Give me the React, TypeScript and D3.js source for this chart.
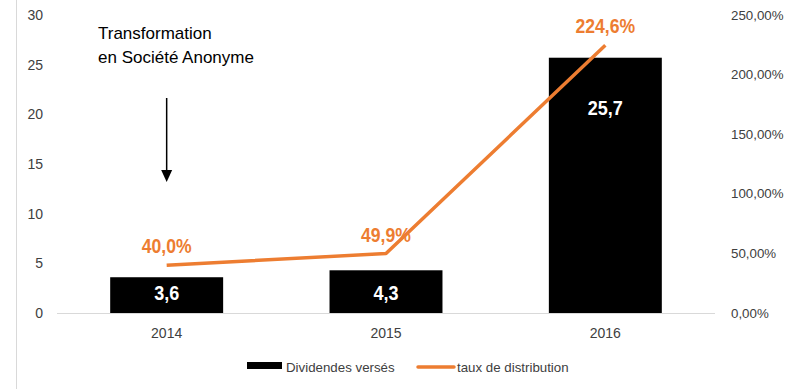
import React from "react";
import * as d3 from "d3";

const categories = ["2014", "2015", "2016"];
const dividendes = [3.6, 4.3, 25.7];
const taux = [0.4, 0.499, 2.246];
const leftTicks = [0, 5, 10, 15, 20, 25, 30];
const rightTicks = [0, 0.5, 1, 1.5, 2, 2.5];
const annotationLines = ["Transformation", "en Société Anonyme"];

const W = 793;
const H = 389;
const M = { left: 57, right: 78, top: 15, bottom: 76 };
const ORANGE = "#ED7D31";
const TEXT = "#404040";
const FONT = "'Liberation Sans', Arial, sans-serif";

const fmtComma = (v: number, d: number) => v.toFixed(d).replace(".", ",");

export default function App() {
  const x = d3
    .scaleBand<string>()
    .domain(categories)
    .range([M.left, W - M.right])
    .paddingInner(0.485)
    .paddingOuter(0.2425);
  const yL = d3.scaleLinear().domain([0, 30]).range([H - M.bottom, M.top]);
  const yR = d3.scaleLinear().domain([0, 2.5]).range([H - M.bottom, M.top]);
  const y0 = yL(0);
  const cx = (c: string) => (x(c) as number) + x.bandwidth() / 2;

  const line = d3
    .line<number>()
    .x((_, i) => cx(categories[i]))
    .y((d) => yR(d));

  const arrowX = cx(categories[0]);

  return (
    <svg width={W} height={H} style={{ position: "absolute", left: 0, top: 0, background: "#fff" }}>
      <rect x={0} y={0} width={W} height={H} fill="#fff" />
      {/* left frame line */}
      <line x1={16.5} x2={16.5} y1={0} y2={H} stroke="#d9d9d9" strokeWidth={1} />

      {/* left ticks */}
      {leftTicks.map((t) => (
        <text key={"l" + t} x={43} y={yL(t)} dy="0.35em" textAnchor="end" fontFamily={FONT} fontSize={14} fill={TEXT}>
          {t}
        </text>
      ))}
      {/* right ticks */}
      {rightTicks.map((t) => (
        <text key={"r" + t} x={731} y={yR(t)} dy="0.35em" textAnchor="start" fontFamily={FONT} fontSize={13.3} fill={TEXT}>
          {fmtComma(t * 100, 2) + "%"}
        </text>
      ))}

      {/* bars */}
      {dividendes.map((v, i) => (
        <rect
          key={"b" + i}
          x={x(categories[i])}
          y={yL(v)}
          width={x.bandwidth()}
          height={y0 - yL(v)}
          fill="#000"
        />
      ))}

      {/* baseline */}
      <line x1={M.left} x2={W - M.right} y1={y0 + 0.5} y2={y0 + 0.5} stroke="#d9d9d9" strokeWidth={1} />

      {/* x labels */}
      {categories.map((c) => (
        <text key={"x" + c} x={cx(c)} y={338} textAnchor="middle" fontFamily={FONT} fontSize={14} fill={TEXT}>
          {c}
        </text>
      ))}

      {/* line */}
      <path d={line(taux) as string} fill="none" stroke={ORANGE} strokeWidth={3.5} strokeLinejoin="round" />

      {/* bar labels */}
      {dividendes.map((v, i) => (
        <text
          key={"bl" + i}
          transform={`translate(${cx(categories[i])},${Math.min(y0 - 13, yL(v) + 57)}) scale(0.95,1.08)`}
          textAnchor="middle"
          fontFamily={FONT}
          fontWeight="bold"
          fontSize={19}
          fill="#fff"
        >
          {fmtComma(v, 1)}
        </text>
      ))}

      {/* line labels */}
      {taux.map((v, i) => (
        <text
          key={"ll" + i}
          transform={`translate(${cx(categories[i])},${yR(v) - 12}) scale(0.88,1.05)`}
          textAnchor="middle"
          fontFamily={FONT}
          fontWeight="bold"
          fontSize={20}
          fill={ORANGE}
        >
          {fmtComma(v * 100, 1) + "%"}
        </text>
      ))}

      {/* annotation */}
      {annotationLines.map((t, i) => (
        <text key={"a" + i} x={98} y={39 + i * 24} fontFamily={FONT} fontSize={17} fill="#000">
          {t}
        </text>
      ))}
      <line x1={arrowX} x2={arrowX} y1={98} y2={172} stroke="#000" strokeWidth={1.5} />
      <path d={`M${arrowX - 5.5},170 L${arrowX + 5.5},170 L${arrowX},182 Z`} fill="#000" />

      {/* legend */}
      <rect x={247} y={362} width={35} height={7} fill="#000" />
      <text x={286} y={372} fontFamily={FONT} fontSize={13.3} fill={TEXT}>
        Dividendes versés
      </text>
      <line x1={418} x2={454} y1={367} y2={367} stroke={ORANGE} strokeWidth={3.5} strokeLinecap="round" />
      <text x={457} y={372} fontFamily={FONT} fontSize={13.3} fill={TEXT}>
        taux de distribution
      </text>
    </svg>
  );
}
